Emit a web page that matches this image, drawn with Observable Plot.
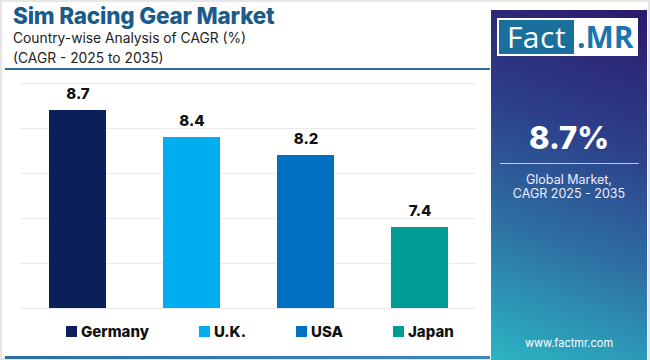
<!DOCTYPE html>
<html>
<head>
<meta charset="utf-8">
<script src="https://cdn.jsdelivr.net/npm/d3@7"></script>
<script src="https://cdn.jsdelivr.net/npm/@observablehq/plot@0.6"></script>
<style>
  html, body { margin: 0; padding: 0; background: #fff; }
  #wrap { position: relative; width: 650px; height: 360px; overflow: hidden; background: #fff; font-family: Inter, "Open Sans", sans-serif; box-shadow: inset 0 0 0 2px #e6e6e6; }
  #title { position: absolute; left: 13px; top: 4px; font-size: 22.5px; line-height: 24px; font-weight: 800; color: #1b5b8c; letter-spacing: -0.2px; white-space: nowrap; }
  .sub { position: absolute; left: 13px; font-size: 13.8px; line-height: 18px; color: #222; white-space: nowrap; }
  #rule { position: absolute; left: 5px; top: 68px; width: 485px; height: 2px; background: #2d6c9c; }
  #chart { position: absolute; left: -2px; top: 68px; }
  #legend { position: absolute; left: 66px; top: 322px; display: flex; gap: 50px; font-size: 15px; font-weight: 800; color: #111; white-space: nowrap; }
  #legend .it { display: flex; align-items: center; }
  #legend .sw { width: 11px; height: 11px; margin-right: 4px; }
  #bottom { position: absolute; left: 5px; top: 356px; width: 485px; height: 3px; background: linear-gradient(to right, #2c6ea3, #3b87bf); }
  #panel { position: absolute; left: 491px; top: 10px; width: 156px; height: 350px; background: linear-gradient(200deg, #2c1a6a 0%, #2c3f8a 35%, #2e6fa3 65%, #2bb5c3 100%); color: #fff; text-align: center; }
  #logo { position: absolute; left: 6px; top: 8px; width: 141px; height: 38px; background: #fff; }
  #logo .f { position: absolute; left: 2px; top: 2px; width: 75px; height: 34px; background: #1a6f9c; color: #fff; font-size: 30px; line-height: 34px; font-family: "Open Sans", sans-serif; letter-spacing: 0.5px; }
  #logo .m { position: absolute; left: 80px; top: 2px; height: 34px; color: #1a74b0; font-size: 30px; line-height: 34px; font-weight: 700; font-family: "Open Sans", sans-serif; }
  #big { position: absolute; left: 0; width: 156px; top: 109px; font-size: 31px; font-weight: 800; }
  #prule { position: absolute; left: 9px; top: 153px; width: 139px; height: 1px; background: #c8c8e0; }
  #gm { position: absolute; left: 0; width: 156px; top: 163px; font-size: 12.5px; line-height: 14px; color: #eef; }
  #url { position: absolute; left: 0; width: 156px; top: 326px; font-size: 11px; color: #fff; }
</style>
</head>
<body>
<div id="wrap">
  <div id="title"></div>
  <div class="sub" id="sub1" style="top:29px"></div>
  <div class="sub" id="sub2" style="top:49px"></div>
  <div id="rule"></div>
  <div id="chart"></div>
  <div id="legend"></div>
  <div id="bottom"></div>
  <div id="panel">
    <div id="logo"><div class="f">Fact</div><div class="m">.MR</div></div>
    <div id="big"></div>
    <div id="prule"></div>
    <div id="gm"></div>
    <div id="url"></div>
  </div>
</div>
<script>
const titleText = "Sim Racing Gear Market";
const subtitle1 = "Country-wise Analysis of CAGR (%)";
const subtitle2 = "(CAGR - 2025 to 2035)";
const countries = ["Germany", "U.K.", "USA", "Japan"];
const cagr = [8.7, 8.4, 8.2, 7.4];
const barColors = ["#0a205a", "#00aeef", "#0071c1", "#009b95"];
const gridTicks = [6.5, 7, 7.5, 8, 8.5, 9];
const yDomain = [6.5, 9];
const globalCagr = "8.7%";
const globalLabel = ["Global Market,", "CAGR 2025 - 2035"];
const website = "www.factmr.com";

document.getElementById("title").textContent = titleText;
document.getElementById("sub1").textContent = subtitle1;
document.getElementById("sub2").textContent = subtitle2;
document.getElementById("big").textContent = globalCagr;
document.getElementById("gm").innerHTML = globalLabel.join("<br>");
document.getElementById("url").textContent = website;

const data = countries.map((c, i) => ({country: c, value: cagr[i]}));

const chart = Plot.plot({
  width: 492,
  height: 250,
  marginTop: 15,
  marginBottom: 10,
  marginLeft: 22,
  marginRight: 14,
  style: {fontFamily: "Inter, 'Open Sans', sans-serif", background: "transparent"},
  x: {domain: countries, paddingInner: 0.5, paddingOuter: 0.24, axis: null},
  y: {domain: yDomain, axis: null},
  color: {domain: countries, range: barColors},
  marks: [
    Plot.ruleY(gridTicks, {stroke: "#ebebeb", strokeWidth: 1}),
    Plot.barY(data, {x: "country", y: "value", fill: "country", clip: true}),
    Plot.text(data, {x: "country", y: "value", text: d => d.value.toFixed(1), dy: -16, fontSize: 15, fontWeight: 800, fill: "#111"})
  ]
});
document.getElementById("chart").appendChild(chart);

const legend = document.getElementById("legend");
countries.forEach((c, i) => {
  const it = document.createElement("div");
  it.className = "it";
  const sw = document.createElement("div");
  sw.className = "sw";
  sw.style.background = barColors[i];
  const t = document.createElement("span");
  t.textContent = c;
  it.appendChild(sw); it.appendChild(t);
  legend.appendChild(it);
});
</script>
</body>
</html>
